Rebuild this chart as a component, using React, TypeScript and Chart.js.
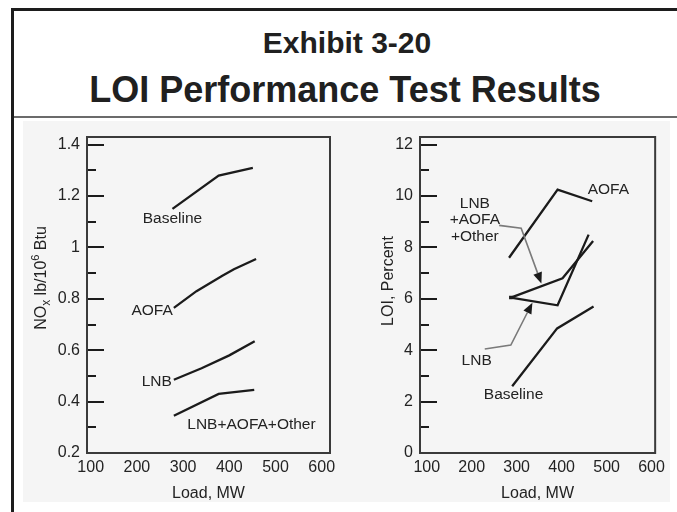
import React, { useEffect, useRef } from "react";
import { Chart, registerables } from "chart.js";

Chart.register(...registerables);

// ---------- data ----------
const xTickValues = [100, 200, 300, 400, 500, 600];

// Left panel: NOx, lb/10^6 Btu vs Load, MW
const noxXMin = 92;
const noxXMax = 618;
const noxMin = 0.2;
const noxMax = 1.43;
const noxMajorTicks = [0.2, 0.4, 0.6, 0.8, 1, 1.2, 1.4];
const noxMinorTicks = [0.3, 0.5, 0.7, 0.9, 1.1, 1.3];
const noxBaselineX = [277, 377, 451];
const noxBaselineY = [1.15, 1.28, 1.31];
const noxAofaX = [280, 329, 385, 410, 458];
const noxAofaY = [0.765, 0.83, 0.89, 0.915, 0.955];
const noxLnbX = [280, 340, 400, 455];
const noxLnbY = [0.485, 0.53, 0.58, 0.635];
const noxComboX = [280, 377, 454];
const noxComboY = [0.345, 0.43, 0.446];
const noxLabelText = ["Baseline", "AOFA", "LNB", "LNB+AOFA+Other"];
const noxLabelX = [277, 233, 243, 448];
const noxLabelY = [1.11, 0.754, 0.477, 0.31];

// Right panel: LOI, Percent vs Load, MW
const loiXMin = 85;
const loiXMax = 608;
const loiMin = 0;
const loiMax = 12.3;
const loiMajorTicks = [0, 2, 4, 6, 8, 10, 12];
const loiMinorTicks = [1, 3, 5, 7, 9, 11];
const loiAofaX = [283, 391, 468];
const loiAofaY = [7.6, 10.25, 9.8];
const loiBaselineX = [290, 390, 471];
const loiBaselineY = [2.6, 4.85, 5.7];
const loiLnbX = [287, 391, 460];
const loiLnbY = [6.05, 5.75, 8.5];
const loiComboX = [287, 402, 470];
const loiComboY = [6.05, 6.8, 8.25];
const loiLabelText = ["AOFA", "LNB", "+AOFA", "+Other", "LNB", "Baseline"];
const loiLabelX = [504, 207, 207, 207, 211, 293];
const loiLabelY = [10.23, 9.7, 9.08, 8.43, 3.6, 2.25];
const loiArrow1X = [261, 310, 355];
const loiArrow1Y = [8.86, 8.75, 6.6];
const loiArrow2X = [229, 287, 335];
const loiArrow2Y = [4.05, 4.2, 5.85];

// ---------- styles ----------
const LINE = "#1b1b1b";
const TEXT = "#232323";
const FRAME = "#3a3a3a";
const ARROW_GRAY = "#7a7a7a";
const FONT = "'Liberation Sans', Arial, Helvetica, sans-serif";

type Series = { x: number[]; y: number[]; marker?: boolean };
type TitlePiece = { t: string; size: number; dy: number };
type PanelSpec = {
  left: number;
  top: number;
  width: number;
  height: number;
  yAxisWidth: number;
  padRight: number;
  padBottom: number;
  xAxisHeight: number;
  xMin: number;
  xMax: number;
  yMin: number;
  yMax: number;
  major: number[];
  minor: number[];
  series: Series[];
  labels: { text: string[]; x: number[]; y: number[] };
  arrows: { x: number[]; y: number[] }[];
  yTitle: TitlePiece[];
  yTitleX: number;
  yTitleY: number;
};

function makeDecorPlugin(p: PanelSpec) {
  return {
    id: "decor",
    afterDraw(chart: any) {
      const ctx: CanvasRenderingContext2D = chart.ctx;
      const a = chart.chartArea;
      const xs = chart.scales.x;
      const ys = chart.scales.y;
      ctx.save();
      // y ticks drawn inward
      ctx.strokeStyle = LINE;
      ctx.lineWidth = 2;
      ctx.lineCap = "butt";
      const drawTick = (v: number, len: number) => {
        const py = Math.round(ys.getPixelForValue(v));
        ctx.beginPath();
        ctx.moveTo(a.left, py);
        ctx.lineTo(a.left + len, py);
        ctx.stroke();
      };
      p.major.forEach((v) => drawTick(v, 17));
      p.minor.forEach((v) => drawTick(v, 9));
      // frame
      ctx.strokeStyle = FRAME;
      ctx.lineWidth = 2;
      ctx.strokeRect(a.left, a.top, a.right - a.left, a.bottom - a.top);

      // arrows
      p.arrows.forEach((ar) => {
        const pts = ar.x.map((x, i) => [xs.getPixelForValue(x), ys.getPixelForValue(ar.y[i])]);
        const n = pts.length;
        const [tx, ty] = pts[n - 1];
        const [px, py] = pts[n - 2];
        const ang = Math.atan2(ty - py, tx - px);
        const headLen = 11;
        const headW = 4.5;
        const bx = tx - Math.cos(ang) * headLen;
        const by = ty - Math.sin(ang) * headLen;
        ctx.strokeStyle = ARROW_GRAY;
        ctx.lineWidth = 1.6;
        ctx.beginPath();
        ctx.moveTo(pts[0][0], pts[0][1]);
        for (let i = 1; i < n - 1; i++) ctx.lineTo(pts[i][0], pts[i][1]);
        ctx.lineTo(bx, by);
        ctx.stroke();
        ctx.fillStyle = LINE;
        ctx.beginPath();
        ctx.moveTo(tx, ty);
        ctx.lineTo(bx + Math.sin(ang) * headW, by - Math.cos(ang) * headW);
        ctx.lineTo(bx - Math.sin(ang) * headW, by + Math.cos(ang) * headW);
        ctx.closePath();
        ctx.fill();
      });

      // annotation labels
      ctx.fillStyle = TEXT;
      ctx.font = `15.5px ${FONT}`;
      ctx.textAlign = "center";
      ctx.textBaseline = "middle";
      p.labels.text.forEach((t, i) => {
        ctx.fillText(t, xs.getPixelForValue(p.labels.x[i]), ys.getPixelForValue(p.labels.y[i]));
      });

      // rotated y-axis title with sub/superscripts
      ctx.translate(p.yTitleX, p.yTitleY);
      ctx.rotate(-Math.PI / 2);
      ctx.textAlign = "left";
      ctx.textBaseline = "alphabetic";
      let total = 0;
      p.yTitle.forEach((pc) => {
        ctx.font = `${pc.size}px ${FONT}`;
        total += ctx.measureText(pc.t).width;
      });
      let cx = -total / 2;
      const base = 5.5;
      p.yTitle.forEach((pc) => {
        ctx.font = `${pc.size}px ${FONT}`;
        ctx.fillText(pc.t, cx, base + pc.dy);
        cx += ctx.measureText(pc.t).width;
      });
      ctx.restore();
    },
  };
}

function makeConfig(p: PanelSpec): any {
  return {
    type: "scatter",
    data: {
      datasets: p.series.map((s) => ({
        data: s.x.map((x, i) => ({ x, y: s.y[i] })),
        showLine: true,
        borderColor: LINE,
        borderWidth: 2.3,
        tension: 0,
        pointStyle: "rect",
        pointRadius: s.marker ? s.x.map((_, i) => (i === 0 ? 2.5 : 0)) : 0,
        pointBackgroundColor: LINE,
        pointBorderWidth: 0,
      })),
    },
    options: {
      animation: false,
      responsive: false,
      maintainAspectRatio: false,
      events: [],
      layout: {
        autoPadding: false,
        padding: { left: 0, right: p.padRight, top: 19, bottom: p.padBottom },
      },
      plugins: { legend: { display: false }, tooltip: { enabled: false } },
      scales: {
        x: {
          type: "linear",
          min: p.xMin,
          max: p.xMax,
          afterBuildTicks: (s: any) => {
            s.ticks = xTickValues.map((v) => ({ value: v }));
          },
          afterFit: (s: any) => {
            s.height = p.xAxisHeight;
          },
          grid: { display: false, drawTicks: false, tickLength: 0 },
          border: { display: false },
          ticks: {
            padding: 5,
            color: TEXT,
            font: { size: 16, family: FONT },
            maxRotation: 0,
            autoSkip: false,
            callback: (v: any) => String(v),
          },
          title: {
            display: true,
            text: "Load, MW",
            color: TEXT,
            font: { size: 16, family: FONT },
            padding: { top: 0, bottom: 0 },
          },
        },
        y: {
          type: "linear",
          min: p.yMin,
          max: p.yMax,
          afterBuildTicks: (s: any) => {
            s.ticks = p.major.map((v) => ({ value: v }));
          },
          afterFit: (s: any) => {
            s.width = p.yAxisWidth;
          },
          grid: { display: false, drawTicks: false, tickLength: 0 },
          border: { display: false },
          ticks: {
            padding: 7,
            color: TEXT,
            font: { size: 16, family: FONT },
            autoSkip: false,
            callback: (v: any) => String(v),
          },
        },
      },
    },
    plugins: [makeDecorPlugin(p)],
  };
}

const leftPanel: PanelSpec = {
  left: 14,
  top: 118,
  width: 330,
  height: 386,
  yAxisWidth: 73,
  padRight: 14,
  padBottom: 1,
  xAxisHeight: 50,
  xMin: noxXMin,
  xMax: noxXMax,
  yMin: noxMin,
  yMax: noxMax,
  major: noxMajorTicks,
  minor: noxMinorTicks,
  series: [
    { x: noxBaselineX, y: noxBaselineY },
    { x: noxAofaX, y: noxAofaY },
    { x: noxLnbX, y: noxLnbY },
    { x: noxComboX, y: noxComboY },
  ],
  labels: { text: noxLabelText, x: noxLabelX, y: noxLabelY },
  arrows: [],
  yTitle: [
    { t: "NO", size: 16, dy: 0 },
    { t: "x", size: 12, dy: 4 },
    { t: " lb/10", size: 16, dy: 0 },
    { t: "6", size: 11, dy: -6.5 },
    { t: " Btu", size: 16, dy: 0 },
  ],
  yTitleX: 26,
  yTitleY: 160,
};

const rightPanel: PanelSpec = {
  left: 344,
  top: 118,
  width: 326,
  height: 386,
  yAxisWidth: 76,
  padRight: 6,
  padBottom: 1,
  xAxisHeight: 50,
  xMin: loiXMin,
  xMax: loiXMax,
  yMin: loiMin,
  yMax: loiMax,
  major: loiMajorTicks,
  minor: loiMinorTicks,
  series: [
    { x: loiAofaX, y: loiAofaY },
    { x: loiBaselineX, y: loiBaselineY },
    { x: loiLnbX, y: loiLnbY, marker: true },
    { x: loiComboX, y: loiComboY },
  ],
  labels: { text: loiLabelText, x: loiLabelX, y: loiLabelY },
  arrows: [
    { x: loiArrow1X, y: loiArrow1Y },
    { x: loiArrow2X, y: loiArrow2Y },
  ],
  yTitle: [{ t: "LOI, Percent", size: 16, dy: 0 }],
  yTitleX: 43,
  yTitleY: 163,
};

function Panel({ spec }: { spec: PanelSpec }) {
  const ref = useRef<HTMLCanvasElement | null>(null);
  useEffect(() => {
    if (!ref.current) return;
    const chart = new Chart(ref.current, makeConfig(spec));
    return () => chart.destroy();
  }, [spec]);
  return (
    <canvas
      ref={ref}
      width={spec.width}
      height={spec.height}
      style={{
        position: "absolute",
        left: spec.left,
        top: spec.top,
        width: spec.width,
        height: spec.height,
      }}
    />
  );
}

export default function App() {
  return (
    <div
      style={{
        position: "absolute",
        left: 0,
        top: 0,
        width: 677,
        height: 512,
        overflow: "hidden",
        background: "#ffffff",
        fontFamily: FONT,
      }}
    >
      <div
        style={{
          position: "absolute",
          left: 11,
          top: 8,
          width: 720,
          height: 600,
          border: "3px solid #1d1d1d",
          boxSizing: "border-box",
        }}
      />
      <div
        style={{
          position: "absolute",
          left: 14,
          top: 116,
          width: 700,
          height: 2,
          background: "#6b6b6b",
        }}
      />
      <div
        style={{
          position: "absolute",
          left: 23,
          top: 121,
          width: 647,
          height: 381,
          background: "#f5f5f5",
        }}
      />
      <div
        style={{
          position: "absolute",
          left: 47,
          width: 600,
          top: 28,
          textAlign: "center",
          fontSize: 30,
          lineHeight: "30px",
          fontWeight: 700,
          color: "#202020",
          whiteSpace: "nowrap",
        }}
      >
        Exhibit 3-20
      </div>
      <div
        style={{
          position: "absolute",
          left: 45,
          width: 600,
          top: 71.5,
          textAlign: "center",
          fontSize: 36,
          lineHeight: "36px",
          fontWeight: 700,
          color: "#202020",
          whiteSpace: "nowrap",
        }}
      >
        LOI Performance Test Results
      </div>
      <Panel spec={leftPanel} />
      <Panel spec={rightPanel} />
    </div>
  );
}
